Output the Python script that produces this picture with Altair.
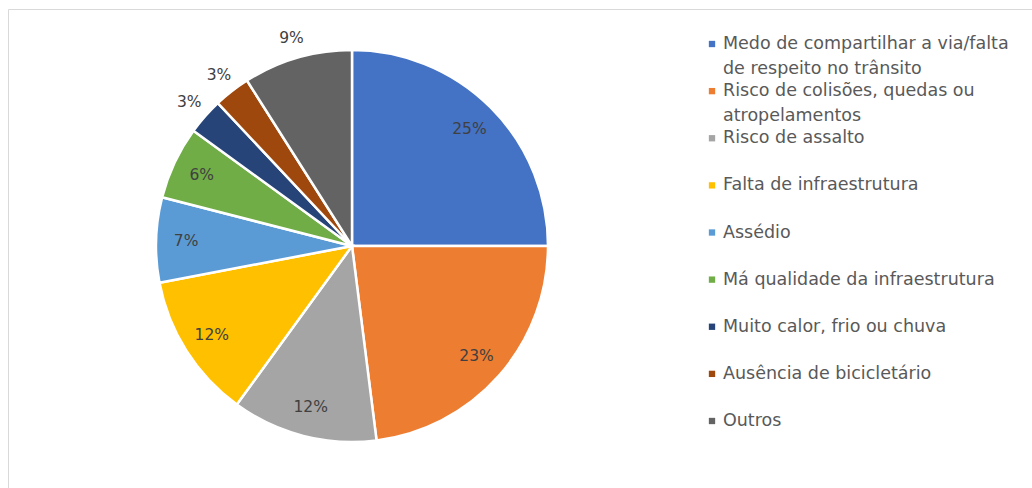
import altair as alt
import pandas as pd

categories = [
    "Medo de compartilhar a via/falta\nde respeito no trânsito",
    "Risco de colisões, quedas ou\natropelamentos",
    "Risco de assalto",
    "Falta de infraestrutura",
    "Assédio",
    "Má qualidade da infraestrutura",
    "Muito calor, frio ou chuva",
    "Ausência de bicicletário",
    "Outros",
]
values = [25, 23, 12, 12, 7, 6, 3, 3, 9]
colors = ["#4472C4", "#ED7D31", "#A5A5A5", "#FFC000", "#5B9BD5",
          "#70AD47", "#264478", "#9E480E", "#636363"]
label_outside = [False, False, False, False, False, False, True, True, True]

FONT = "DejaVu Sans"
CX, CY, R = 352, 246, 196

df = pd.DataFrame({
    "cat": categories,
    "value": values,
    "order": list(range(len(categories))),
    "outside": label_outside,
})
df["line1"] = [c.split("\n")[0] for c in categories]
df["line2"] = [c.split("\n")[1] if "\n" in c else "" for c in categories]
df["pct"] = [f"{v}%" for v in values]

base = alt.Chart(df)
color = alt.Color("cat:N", scale=alt.Scale(domain=categories, range=colors), legend=None)

border = alt.Chart(pd.DataFrame({"a": [0]})).mark_rect(
    fill="white", stroke="#d9d9d9", strokeWidth=1
).encode(x=alt.value(8.5), x2=alt.value(1100), y=alt.value(9.5), y2=alt.value(600))

arcs = base.mark_arc(radius=R, stroke="white", strokeWidth=2.5).encode(
    theta=alt.Theta("value:Q", stack=True),
    color=color,
    order=alt.Order("order:Q"),
    x=alt.value(CX),
    y=alt.value(CY),
)


def label_layer(outside, radius):
    expr = "datum.outside ? datum.pct : ''" if outside else "datum.outside ? '' : datum.pct"
    return base.transform_calculate(lbl=expr).mark_text(
        fontSize=15.5, color="#404040", font=FONT, radius=radius
    ).encode(
        theta=alt.Theta("value:Q", stack=True),
        order=alt.Order("order:Q"),
        text="lbl:N",
        x=alt.value(CX),
        y=alt.value(CY),
    )


labels_in = label_layer(False, 166)
labels_out = label_layer(True, 217)

leg_y = alt.Y("order:Q", scale=alt.Scale(domain=[0, 8], range=[44, 421]), axis=None)

symbols = base.mark_square(size=40, opacity=1).encode(
    x=alt.value(712), y=leg_y, color=color
)
text1 = base.mark_text(align="left", baseline="middle", fontSize=17.5,
                       color="#595959", font=FONT).encode(
    x=alt.value(723), y=leg_y, text="line1:N"
)
text2 = base.mark_text(align="left", baseline="middle", fontSize=17.5,
                       color="#595959", font=FONT, dy=25).encode(
    x=alt.value(723), y=leg_y, text="line2:N"
)

chart = alt.layer(border, arcs, labels_in, labels_out, symbols, text1, text2).properties(
    width=1032, height=488, padding=0, autosize="none", background="white"
).configure_view(stroke=None)

chart.save("out.html", embed_options={"renderer": "svg", "actions": False})
